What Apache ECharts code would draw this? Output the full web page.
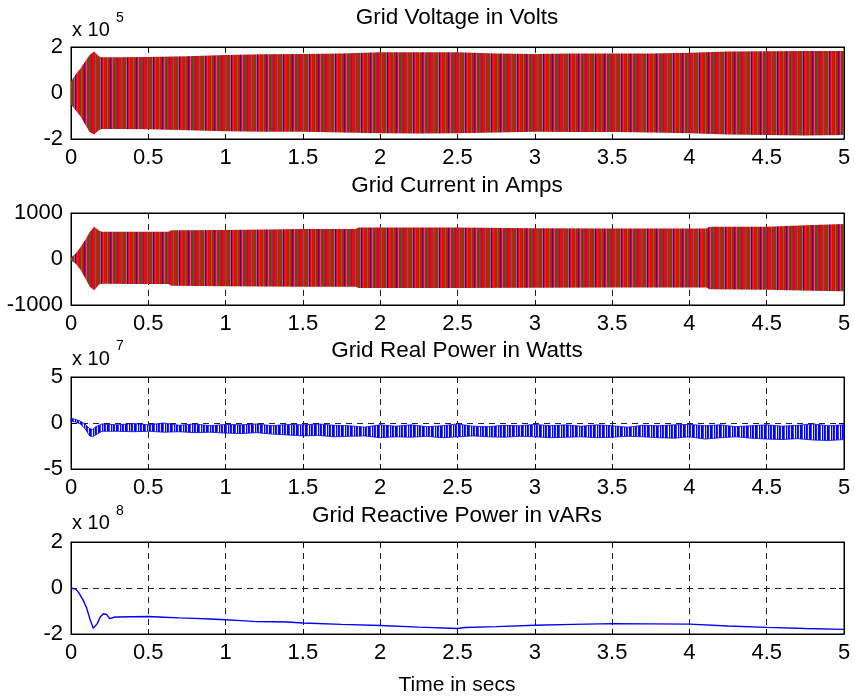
<!DOCTYPE html>
<html>
<head>
<meta charset="utf-8">
<script src="https://cdn.jsdelivr.net/npm/echarts@6/dist/echarts.min.js"></script>
<style>
  html, body { margin: 0; padding: 0; background: #fff; }
  #chart { width: 855px; height: 696px; }
</style>
</head>
<body>
<div id="chart"></div>
<script>
  // grid voltage, envelope of the 3 phases (x 10^5 V)
  const voltT = [0, 0.03, 0.06, 0.09, 0.12, 0.15, 0.18, 0.2, 0.3, 0.5, 0.75, 1, 1.25, 1.5, 1.75, 2, 2.25, 2.5, 2.75, 3, 3.25, 3.5, 3.75, 4, 4.25, 4.5, 4.75, 5]
  const voltUpper = [0.5, 0.8, 1.05, 1.35, 1.65, 1.8, 1.6, 1.55, 1.55, 1.57, 1.6, 1.65, 1.68, 1.7, 1.72, 1.77, 1.77, 1.77, 1.72, 1.7, 1.72, 1.72, 1.72, 1.75, 1.8, 1.82, 1.83, 1.83]
  const voltLower = [-0.5, -0.75, -1.0, -1.35, -1.7, -1.8, -1.62, -1.57, -1.56, -1.58, -1.62, -1.66, -1.68, -1.68, -1.72, -1.75, -1.76, -1.75, -1.72, -1.68, -1.7, -1.7, -1.72, -1.75, -1.8, -1.83, -1.85, -1.83]

  // grid current envelope (A)
  const currT = [0, 0.03, 0.06, 0.09, 0.12, 0.15, 0.18, 0.2, 0.4, 0.63, 0.65, 1, 1.5, 1.84, 1.86, 2.5, 3, 3.5, 4, 4.11, 4.13, 4.5, 4.8, 5]
  const currUpper = [30, 120, 250, 400, 580, 700, 620, 590, 590, 590, 625, 630, 650, 650, 685, 685, 670, 663, 663, 663, 700, 700, 740, 760]
  const currLower = [-30, -100, -230, -400, -600, -680, -560, -540, -545, -545, -580, -590, -605, -605, -633, -633, -625, -620, -620, -620, -660, -670, -690, -700]

  // grid real power, noise envelope (x 10^7 W)
  const realT = [0, 0.03, 0.06, 0.09, 0.12, 0.14, 0.16, 0.2, 0.3, 0.4, 0.5, 0.6, 0.7, 0.8, 0.9, 1.0, 1.1, 1.2, 1.3, 1.4, 1.5, 1.6, 1.7, 1.8, 1.9, 2.0, 2.1, 2.2, 2.3, 2.4, 2.5, 2.6, 2.7, 2.8, 2.9, 3.0, 3.1, 3.2, 3.3, 3.4, 3.5, 3.6, 3.7, 3.8, 3.9, 4.0, 4.1, 4.2, 4.3, 4.4, 4.5, 4.6, 4.7, 4.8, 4.9, 5.0]
  const realUpper = [0.5, 0.4, 0.2, -0.1, -0.6, -0.7, -0.4, -0.1, -0.2, -0.05, -0.2, 0.0, -0.25, -0.1, -0.3, -0.15, -0.2, -0.1, -0.3, -0.15, -0.2, -0.1, -0.25, -0.3, -0.45, -0.2, -0.35, -0.2, -0.4, -0.3, -0.1, -0.35, -0.4, -0.25, -0.3, -0.15, -0.3, -0.2, -0.35, -0.2, -0.3, -0.45, -0.25, -0.3, -0.2, -0.15, -0.3, -0.2, -0.4, -0.3, -0.2, -0.35, -0.25, -0.1, -0.3, -0.2]
  const realLower = [0.2, 0.1, -0.1, -0.6, -1.4, -1.5, -1.3, -0.9, -0.9, -0.95, -0.9, -1.0, -0.95, -1.05, -1.0, -1.1, -1.15, -1.05, -1.2, -1.3, -1.4, -1.35, -1.5, -1.45, -1.4, -1.6, -1.5, -1.55, -1.45, -1.6, -1.5, -1.4, -1.5, -1.55, -1.45, -1.5, -1.6, -1.55, -1.5, -1.6, -1.55, -1.45, -1.5, -1.6, -1.65, -1.5, -1.75, -1.6, -1.5, -1.65, -1.75, -1.8, -1.7, -1.85, -1.9, -1.8]

  // grid reactive power (x 10^8 vAR)
  const reacT = [0, 0.03, 0.05, 0.08, 0.1, 0.12, 0.144, 0.17, 0.19, 0.21, 0.23, 0.25, 0.28, 0.3, 0.4, 0.5, 0.6, 0.7, 0.8, 0.9, 1.0, 1.1, 1.2, 1.3, 1.4, 1.5, 1.75, 2.0, 2.25, 2.5, 2.55, 2.75, 3.0, 3.25, 3.5, 3.75, 4.0, 4.25, 4.5, 4.75, 5.0]
  const reacV = [0, -0.05, -0.2, -0.55, -0.85, -1.3, -1.75, -1.55, -1.25, -1.12, -1.15, -1.33, -1.27, -1.26, -1.25, -1.24, -1.27, -1.3, -1.32, -1.35, -1.38, -1.42, -1.46, -1.47, -1.48, -1.52, -1.58, -1.63, -1.7, -1.76, -1.72, -1.68, -1.62, -1.58, -1.55, -1.56, -1.57, -1.65, -1.71, -1.76, -1.8]

  const titles = ['Grid Voltage in Volts', 'Grid Current in Amps', 'Grid Real Power in Watts', 'Grid Reactive Power in vARs']
  const exponents = ['5', '', '7', '8']

  const FONT = 'Liberation Sans, Arial, Helvetica, sans-serif'
  const gridTops = [47, 213, 377, 542]
  const gridH = 92
  const yRanges = [[-2, 2, 2], [-1000, 1000, 1000], [-5, 5, 5], [-2, 2, 2]]

  function stripes(colors) {
    let c = document.createElement('canvas')
    c.width = colors.length
    c.height = 2
    let ctx = c.getContext('2d')
    colors.forEach((col, i) => {
      ctx.fillStyle = col
      ctx.fillRect(i, 0, 1, 2)
    })
    return {image: c, repeat: 'repeat'}
  }

  const phasePattern = stripes(['#ff0000', '#ff0000', '#008000', '#ff2a2a', '#9a2a1a', '#ff0000', '#0000ff', '#ff0000', '#c8506a', '#ff0000', '#008000', '#a83020', '#ff0000', '#7a1a7a', '#ff0000', '#e01010',
    '#ff0000', '#2a7a7a', '#ff0000', '#a0301a', '#ff0000', '#008000', '#ff4040', '#0000c0', '#ff0000', '#b04050'])
  const bluePattern = stripes(['#0000ff', '#4040ff', '#ffffff', '#0000ff', '#b0b0ff', '#0000ff', '#2020ff', '#e0e0ff', '#0000ff'])

  // filled band between lower and upper envelope, drawn as one polygon
  function band(idx, t, lo, hi, pattern, edge) {
    return {
      type: 'custom', xAxisIndex: idx, yAxisIndex: idx, silent: true,
      data: t.map((x, i) => [x, lo[i], hi[i]]),
      renderItem: function(params, api) {
        if (params.dataIndex !== 0) return null
        let n = params.dataInsideLength
        let top = [], bottom = []
        for (let j = 0; j < n; j++) {
          top.push(api.coord([api.value(0, j), api.value(2, j)]))
          bottom.unshift(api.coord([api.value(0, j), api.value(1, j)]))
        }
        return {
          type: 'polygon',
          shape: {points: top.concat(bottom)},
          style: {fill: pattern, stroke: edge ? '#0000ff' : null, lineWidth: edge ? 0.8 : 0}
        }
      }
    }
  }

  let grids = [], xAxes = [], yAxes = []
  const axisLabelStyle = {color: '#000', fontSize: 22, fontFamily: FONT}
  const dashed = {show: true, lineStyle: {color: '#222', width: 1, type: [6, 5]}}
  const boxLine = {show: true, onZero: false, lineStyle: {color: '#000'}}
  const inTick = {show: true, inside: true, length: 5, lineStyle: {color: '#000'}}
  gridTops.forEach((top, i) => {
    grids.push({left: 71, right: 11, top: top, height: gridH, show: true, borderColor: '#000', borderWidth: 1})
    xAxes.push({
      type: 'value', gridIndex: i, min: 0, max: 5, interval: 0.5,
      axisLine: boxLine, axisTick: inTick,
      axisLabel: Object.assign({margin: 8, formatter: v => String(v)}, axisLabelStyle),
      splitLine: dashed
    })
    xAxes.push({
      type: 'value', gridIndex: i, position: 'top', min: 0, max: 5, interval: 0.5,
      axisLine: boxLine, axisTick: inTick, axisLabel: {show: false}, splitLine: {show: false}
    })
    let r = yRanges[i]
    yAxes.push({
      type: 'value', gridIndex: i, min: r[0], max: r[1], interval: r[2],
      axisLine: boxLine, axisTick: inTick,
      axisLabel: Object.assign({margin: 8, formatter: v => String(v)}, axisLabelStyle),
      splitLine: dashed
    })
    yAxes.push({
      type: 'value', gridIndex: i, position: 'right', min: r[0], max: r[1], interval: r[2],
      axisLine: boxLine, axisTick: inTick, axisLabel: {show: false}, splitLine: {show: false}
    })
  })

  const titleY = [18, 186, 351, 516]
  const expY = [30, 0, 359, 523]
  const supY = [18, 0, 346, 511]
  let graphics = []
  titles.forEach((txt, i) => {
    graphics.push({type: 'text', x: 457, y: titleY[i],
      style: {text: txt, fill: '#000', font: '22.5px ' + FONT, align: 'center', verticalAlign: 'middle'}})
    if (exponents[i]) {
      graphics.push({type: 'text', x: 72, y: expY[i],
        style: {text: 'x 10', fill: '#000', font: '20px ' + FONT, align: 'left', verticalAlign: 'middle'}})
      graphics.push({type: 'text', x: 120, y: supY[i],
        style: {text: exponents[i], fill: '#000', font: '14px ' + FONT, align: 'center', verticalAlign: 'middle'}})
    }
  })
  graphics.push({type: 'text', x: 457, y: 685,
    style: {text: 'Time in secs', fill: '#000', font: '21px ' + FONT, align: 'center', verticalAlign: 'middle'}})

  let series = [
    band(0, voltT, voltLower, voltUpper, phasePattern, false),
    band(2, currT, currLower, currUpper, phasePattern, false),
    band(4, realT, realLower, realUpper, bluePattern, true),
    {
      name: 'reactive', type: 'line', xAxisIndex: 6, yAxisIndex: 6, symbol: 'none',
      lineStyle: {color: '#0000ff', width: 1.4},
      data: reacT.map((x, i) => [x, reacV[i]])
    }
  ]

  let chart = echarts.init(document.getElementById('chart'))
  chart.setOption({
    animation: false,
    backgroundColor: '#fff',
    grid: grids,
    xAxis: xAxes,
    yAxis: yAxes,
    graphic: graphics,
    series: series
  })
</script>
</body>
</html>
